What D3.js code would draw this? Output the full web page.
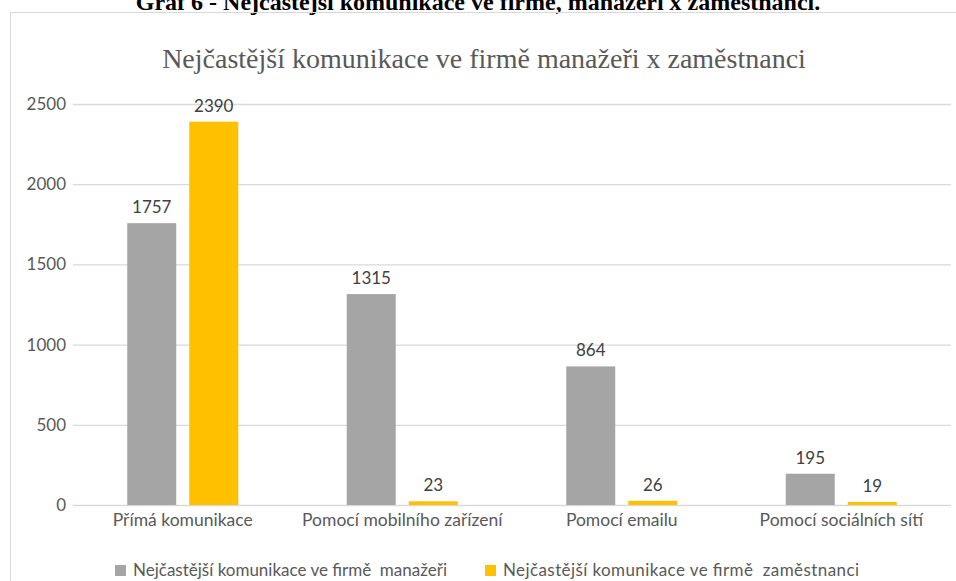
<!DOCTYPE html>
<html>
<head>
<meta charset="utf-8">
<script src="https://cdn.jsdelivr.net/npm/d3@7"></script>
<style>
  body { margin: 0; background: #fff; }
  svg text { white-space: pre; }
</style>
</head>
<body>
<div id="chart"></div>
<script>
var categories = ["Přímá komunikace", "Pomocí mobilního zařízení", "Pomocí emailu", "Pomocí sociálních sítí"];
var seriesNames = ["Nejčastější komunikace ve firmě  manažeři", "Nejčastější komunikace ve firmě  zaměstnanci"];
var managers = [1757, 1315, 864, 195];
var employees = [2390, 23, 26, 19];
var yTicks = [0, 500, 1000, 1500, 2000, 2500];
var colors = ["#a5a5a5", "#ffc000"];

var W = 956, H = 581;
var margin = {top: 104, right: 5, bottom: 76, left: 73};
var font = "Lato, Calibri, sans-serif";

var svg = d3.select("#chart")
  .append("svg")
    .attr("width", W)
    .attr("height", H);

// caption of the document, cut off at the top as in the source page
svg.append("text")
  .attr("x", 478)
  .attr("y", 10)
  .attr("text-anchor", "middle")
  .attr("font-family", "Liberation Serif, Times New Roman, serif")
  .attr("font-weight", "bold")
  .attr("font-size", 24)
  .attr("fill", "#000")
  .text("Graf 6 - Nejčastější komunikace ve firmě, manažeři x zaměstnanci.");

// chart area border
svg.append("rect")
  .attr("x", 10.5)
  .attr("y", 12.5)
  .attr("width", W)
  .attr("height", H)
  .attr("fill", "none")
  .attr("stroke", "#d9d9d9")
  .attr("stroke-width", 1);

svg.append("text")
  .attr("x", 484)
  .attr("y", 68)
  .attr("text-anchor", "middle")
  .attr("font-family", "Liberation Serif, Times New Roman, serif")
  .attr("font-size", 28)
  .attr("fill", "#595959")
  .text("Nejčastější komunikace ve firmě manažeři x zaměstnanci");

var x0 = d3.scaleBand()
  .domain(categories)
  .range([margin.left, W - margin.right])
  .padding(0);

var x1 = d3.scaleBand()
  .domain([0, 1])
  .range([x0.bandwidth() / 2 - 55.5, x0.bandwidth() / 2 + 55.5])
  .paddingInner(0.21);

var y = d3.scaleLinear()
  .domain([0, 2500])
  .range([H - margin.bottom, margin.top]);

// gridlines + y labels
var yAxis = svg.append("g")
  .attr("transform", "translate(" + margin.left + ",0)")
  .call(d3.axisLeft(y).tickValues(yTicks).tickFormat(d3.format("d"))
    .tickSize(-(W - margin.right - margin.left)).tickPadding(7));
yAxis.select(".domain").remove();
yAxis.selectAll(".tick line").attr("stroke", "#d9d9d9").attr("stroke-width", 1.3);
yAxis.selectAll(".tick text")
  .attr("font-family", font)
  .attr("font-size", 17)
  .attr("fill", "#595959");

// x labels
var xAxis = svg.append("g")
  .attr("transform", "translate(0," + (H - margin.bottom) + ")")
  .call(d3.axisBottom(x0).tickSize(0).tickPadding(9));
xAxis.select(".domain").remove();
xAxis.selectAll(".tick text")
  .attr("font-family", font)
  .attr("font-size", 17.5)
  .attr("fill", "#595959");

var rows = categories.map(function(c, i) { return {cat: c, vals: [managers[i], employees[i]]}; });

var groups = svg.selectAll(".grp")
  .data(rows)
  .enter().append("g")
    .attr("transform", function(d) { return "translate(" + x0(d.cat) + ",0)"; });

groups.selectAll("rect")
  .data(function(d) { return d.vals.map(function(v, s) { return {s: s, v: v}; }); })
  .enter().append("rect")
    .attr("x", function(d) { return x1(d.s); })
    .attr("y", function(d) { return y(d.v); })
    .attr("width", x1.bandwidth())
    .attr("height", function(d) { return y(0) - y(d.v); })
    .attr("fill", function(d) { return colors[d.s]; });

groups.selectAll(".lbl")
  .data(function(d) { return d.vals.map(function(v, s) { return {s: s, v: v}; }); })
  .enter().append("text")
    .attr("x", function(d) { return x1(d.s) + x1.bandwidth() / 2; })
    .attr("y", function(d) { return y(d.v) - 10; })
    .attr("text-anchor", "middle")
    .attr("font-family", font)
    .attr("font-size", 17)
    .attr("fill", "#404040")
    .text(function(d) { return d.v; });

// legend
var legendX = [115, 485];
var legendLen = [314, 356];
var legend = svg.selectAll(".leg")
  .data(seriesNames)
  .enter().append("g")
    .attr("transform", function(d, i) { return "translate(" + legendX[i] + ",565)"; });
legend.append("rect")
  .attr("width", 11)
  .attr("height", 11)
  .attr("fill", function(d, i) { return colors[i]; });
legend.append("text")
  .attr("x", 18)
  .attr("y", 11)
  .attr("font-family", font)
  .attr("font-size", 17)
  .attr("fill", "#595959")
  .attr("textLength", function(d, i) { return legendLen[i]; })
  .attr("lengthAdjust", "spacing")
  .text(function(d) { return d; });
</script>
</body>
</html>
